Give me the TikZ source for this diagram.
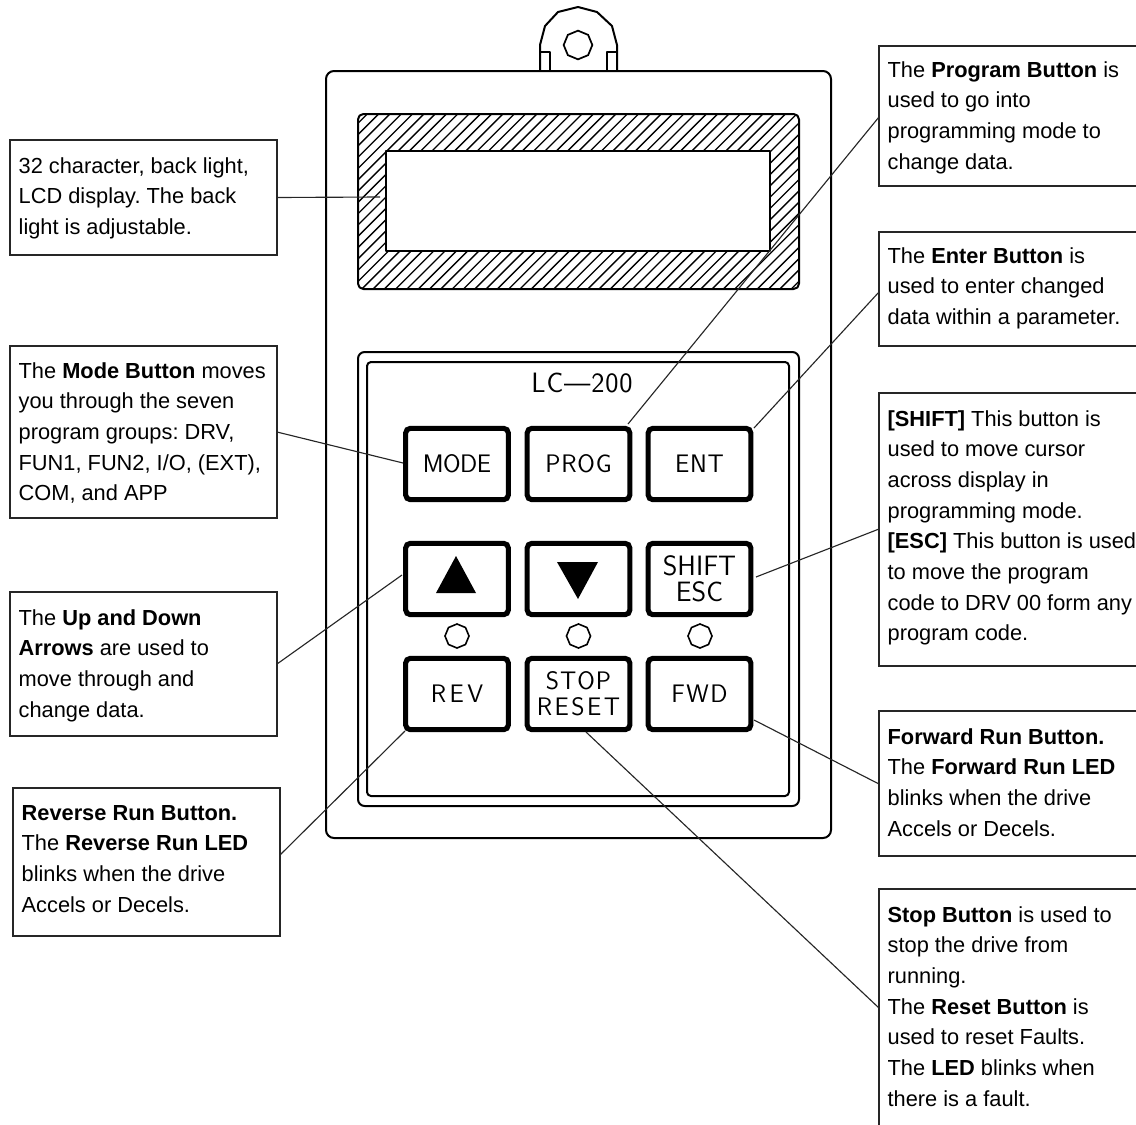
\documentclass[tikz,border=0pt]{standalone}
\usepackage{fontspec}
\setmainfont{Liberation Sans}
\setsansfont{Latin Modern Sans}
\usetikzlibrary{shapes.geometric}
\newcommand{\callout}[7]{%
  \node[calloutbox,minimum width=#4*.75pt,minimum height=#5*.75pt] (#1) at (#2,#3)
  {\parbox[c][\dimexpr.75pt*#5\relax][t]{\dimexpr.75pt*#4-13pt\relax}{\raggedright\frenchspacing\rule{0pt}{\dimexpr.75pt*#6\relax}#7}};}
\newcommand{\cadtext}[1]{\sffamily\addfontfeatures{LetterSpace=#1}}
\tikzset{
  calloutbox/.style={draw=black!85,line width=1.0pt,anchor=north west,inner xsep=6.5pt,inner ysep=0pt,
    font=\fontsize{16.35pt}{23pt}\selectfont,fill=white,outer sep=0pt},
  wire/.style={draw=black!85,line width=.85pt},
  heavy/.style={draw=black,line width=1.5pt,line join=round},
  hatchline/.style={draw=black,line width=1pt},
  keybtn/.style={draw=black,line width=3.8pt,rounded corners=3.5pt,minimum width=77pt,minimum height=53.5pt,
    inner sep=0pt,align=center,outer sep=1.9pt,font=\fontsize{19pt}{19pt}\selectfont\cadtext{3}},
  ledlamp/.style={draw=black,line width=1.2pt,regular polygon,regular polygon sides=8,shape border rotate=22.5,
    minimum size=18pt,inner sep=0pt},
  cadlabel/.style={inner sep=0pt,font=\fontsize{21pt}{22pt}\selectfont\cadtext{3}}
}
\begin{document}
\begin{tikzpicture}[x=.75pt,y=-.75pt]
\useasboundingbox (0,0) rectangle (1136,1125);
\clip (0,0) rectangle (1136,1125);
% case
\draw[heavy,rounded corners=6pt] (326,71) rectangle (831,838);
% hanging tab
\draw[heavy] (540,71)--(540,45)--(545,26)--(558,12)--(578,7)--(597,12)--(612,26)--(617,45)--(617,71);
\draw[heavy] (540,52)--(550,52)--(550,71);
\draw[heavy] (617,52)--(607,52)--(607,71);
\node[ledlamp,minimum size=21.5pt,line width=1.3pt] (hole) at (578,45) {};
% display
\begin{scope}[even odd rule]
\clip (358,114) rectangle (799,289) (386,151) rectangle (770,251);
\foreach \k in {0,...,56}{\draw[hatchline] ({181+\k*11.3},289)--({181+175+\k*11.3},114);}
\end{scope}
\draw[heavy,rounded corners=4pt] (358,114) rectangle (799,289);
\draw[heavy] (386,151) rectangle (770,251);
% keypad
\draw[heavy,rounded corners=5pt] (358,352) rectangle (799,806);
\draw[heavy,rounded corners=3pt] (367,362) rectangle (789,796);
\node[cadlabel] (model) at (582,383) {LC\textemdash 200};
% keys
\node[keybtn,font=\fontsize{19pt}{19pt}\selectfont\cadtext{-2}] (mode) at (457,464) {MODE};
\node[keybtn] (prog) at (578.5,464) {PROG};
\node[keybtn] (ent) at (699.5,464) {ENT};
\node[keybtn] (up) at (457,579) {};
\node[keybtn] (down) at (578.5,579) {};
\node[keybtn,font=\fontsize{21pt}{19.5pt}\selectfont\sffamily] (shift) at (699.5,579) {SHIFT\\ESC};
\node[keybtn,font=\fontsize{19pt}{19pt}\selectfont\cadtext{14}] (rev) at (457,694) {REV};
\node[keybtn,font=\fontsize{19pt}{19.5pt}\selectfont\sffamily] (stop) at (578.5,694) {{\addfontfeatures{LetterSpace=4}STOP}\\{\addfontfeatures{LetterSpace=10}RESET}};
\node[keybtn,font=\fontsize{19pt}{19pt}\selectfont\cadtext{6}] (fwd) at (699.5,694) {FWD};
\fill (456,556)--(476,593)--(436,593)--cycle;
\fill (557,562)--(598,562)--(578,599)--cycle;
\node[ledlamp] (led1) at (457,636) {};
\node[ledlamp] (led2) at (578.5,636) {};
\node[ledlamp] (led3) at (700,636) {};
% callouts
\callout{lcdbox}{10}{140}{267}{115}{33}{32 character, back light,\\LCD display. The back\\light is adjustable.}
\callout{modebox}{10}{346}{267}{172}{32}{The \textbf{Mode Button} moves\\you through the seven\\program groups: DRV,\\FUN1, FUN2, I/O, (EXT),\\COM, and APP}
\callout{upbox}{10}{592}{267}{144}{33}{The \textbf{Up and Down}\\\textbf{Arrows} are used to\\move through and\\change data.}
\callout{revbox}{13}{788}{267}{148}{32}{\textbf{Reverse Run Button.}\\The \textbf{Reverse Run LED}\\blinks when the drive\\Accels or Decels.}
\callout{progbox}{879}{46}{270}{140}{31}{The \textbf{Program Button} is\\used to go into\\programming mode to\\change data.}
\callout{entbox}{879}{232}{270}{114}{31}{The \textbf{Enter Button} is\\used to enter changed\\data within a parameter.}
\callout{shiftbox}{879}{393}{270}{273}{33}{\textbf{[SHIFT]} This button is\\used to move cursor\\across display in\\programming mode.\\\textbf{[ESC]} This button is used\\to move the program\\code to DRV 00 form any\\program code.}
\callout{fwdbox}{879}{711}{270}{145}{33}{\textbf{Forward Run Button.}\\The \textbf{Forward Run LED}\\blinks when the drive\\Accels or Decels.}
\callout{stopbox}{879}{889}{270}{250}{33}{\textbf{Stop Button} is used to\\stop the drive from\\running.\\The \textbf{Reset Button} is\\used to reset Faults.\\The \textbf{LED} blinks when\\there is a fault.}
% connector ends
\coordinate (lcdtip) at (380,197);
\coordinate (modetip) at (403,463);
\coordinate (uptip) at (402,575);
\coordinate (revtip) at (405,731);
\coordinate (progtip) at (628,424);
\coordinate (enttip) at (754,428);
\coordinate (shifttip) at (756,577);
\coordinate (fwdtip) at (754,720);
\coordinate (stoptip) at (586,732);
\draw[wire] (lcdbox.east) -- (lcdtip);
\draw[wire] (modebox.east |- 0,432) -- (modetip);
\draw[wire] (upbox.east |- 0,664) -- (uptip);
\draw[wire] (revbox.east |- 0,855) -- (revtip);
\draw[wire] (progbox.west |- 0,117) -- (progtip);
\draw[wire] (entbox.west |- 0,292) -- (enttip);
\draw[wire] (shiftbox.west |- 0,529) -- (shifttip);
\draw[wire] (fwdbox.west |- 0,784) -- (fwdtip);
\draw[wire] (stopbox.west |- 0,1008) -- (stoptip);
\end{tikzpicture}
\end{document}
